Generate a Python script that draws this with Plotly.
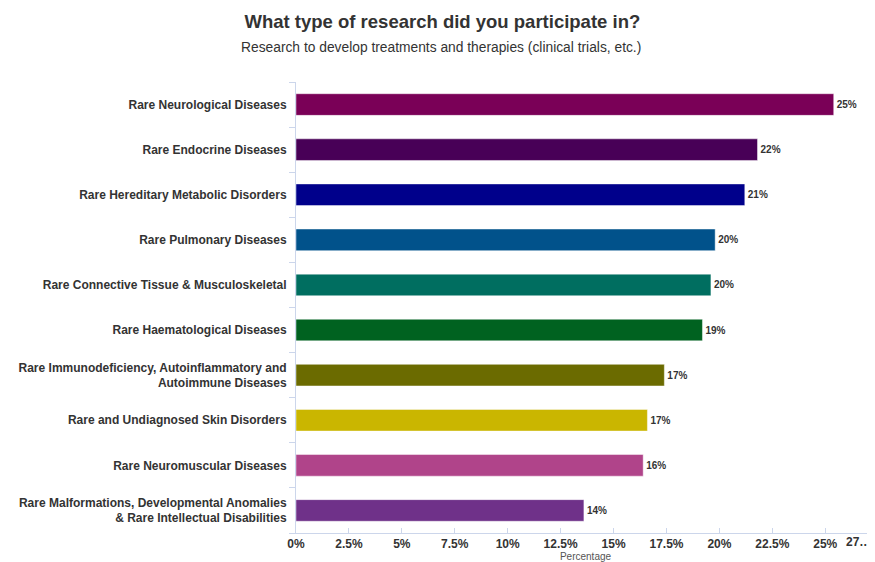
import plotly.graph_objects as go

categories = [
    "Rare Neurological Diseases",
    "Rare Endocrine Diseases",
    "Rare Hereditary Metabolic Disorders",
    "Rare Pulmonary Diseases",
    "Rare Connective Tissue & Musculoskeletal",
    "Rare Haematological Diseases",
    "Rare Immunodeficiency, Autoinflammatory and<br>Autoimmune Diseases",
    "Rare and Undiagnosed Skin Disorders",
    "Rare Neuromuscular Diseases",
    "Rare Malformations, Developmental Anomalies<br>& Rare Intellectual Disabilities",
]
values = [25.4, 21.8, 21.2, 19.8, 19.6, 19.2, 17.4, 16.6, 16.4, 13.6]
colors = ["#7a0057", "#480057", "#00008b", "#01528b", "#006e60",
          "#006220", "#6b6b00", "#cab600", "#b0448a", "#6f3189"]
tick_vals = [0, 2.5, 5, 7.5, 10, 12.5, 15, 17.5, 20, 22.5, 25]
tick_text = ["0%", "2.5%", "5%", "7.5%", "10%", "12.5%", "15%", "17.5%", "20%", "22.5%", "25%"]

FONT = "Liberation Sans, Arial, sans-serif"

fig = go.Figure(go.Bar(
    y=categories,
    x=values,
    orientation="h",
    marker=dict(color=colors, line=dict(color="rgba(255,255,255,0.45)", width=1)),
    width=0.48,
    text=values,
    texttemplate="<b>%{x:.0f}%</b>",
    textposition="outside",
    textfont=dict(family=FONT, size=10, color="#333333"),
    cliponaxis=False,
    hoverinfo="skip",
))

fig.update_layout(
    width=867, height=554,
    margin=dict(l=288, r=0, t=74, b=29),
    paper_bgcolor="white", plot_bgcolor="white",
    font=dict(family=FONT, color="#333333"),
    title=dict(
        text="<b>What type of research did you participate in?</b>",
        x=0.501, xanchor="center", y=0.9747, yanchor="middle",
        font=dict(family=FONT, size=18.5, color="#333333"),
    ),
    showlegend=False,
    annotations=[
        dict(text="Research to develop treatments and therapies (clinical trials, etc.)",
             xref="paper", yref="paper", x=0.251, y=1.0, yshift=35,
             xanchor="center", yanchor="middle", showarrow=False,
             font=dict(family=FONT, size=13.8, color="#333333")),
        dict(text="<b>27…</b>", xref="paper", yref="paper", x=0.996, y=0, yshift=-9,
             xanchor="right", yanchor="middle", showarrow=False,
             font=dict(family=FONT, size=12, color="#333333")),
    ],
)

fig.update_xaxes(
    range=[0, 27.35],
    tickvals=tick_vals, ticktext=["<b>%s</b>" % t for t in tick_text],
    tickfont=dict(family=FONT, size=12, color="#333333"),
    showgrid=False, zeroline=False,
    showline=True, linecolor="#ccd6eb", linewidth=1,
    ticks="inside", ticklen=5, tickcolor="#ccd6eb",
    title=dict(text="Percentage", font=dict(family=FONT, size=10, color="#555555"), standoff=16),
    automargin=False,
)

fig.update_yaxes(
    autorange="reversed",
    tickvals=categories, ticktext=["<b>%s</b>" % c for c in categories],
    tickfont=dict(family=FONT, size=12, color="#333333"),
    showgrid=False, zeroline=False,
    showline=True, linecolor="#ccd6eb", linewidth=1,
    ticks="outside", ticklen=6, tickcolor="#ccd6eb", tickson="boundaries",
    ticklabelstandoff=6,
    automargin=False,
)

fig.write_html("out.html")
